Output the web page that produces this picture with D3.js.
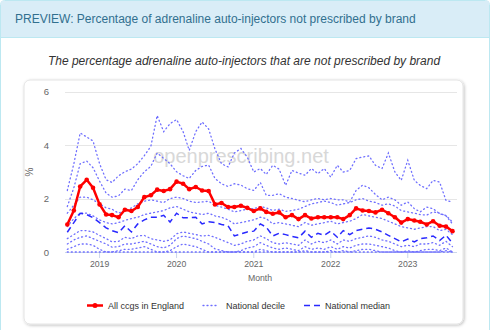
<!DOCTYPE html>
<html>
<head>
<meta charset="utf-8">
<script src="https://cdn.jsdelivr.net/npm/d3@7"></script>
<style>
  body { margin: 0; background: #fff; }
  #chart { width: 491px; height: 330px; overflow: hidden; }
  svg text { font-family: Arial, "Liberation Sans", Arimo, Helvetica, sans-serif; }
</style>
</head>
<body>
<div id="chart"></div>
<script>
// months Aug 2018 .. Aug 2023
var months = d3.timeMonth.range(new Date(2018, 7, 1), new Date(2023, 8, 1));
var yTicks = [0, 2, 4, 6];
var xTicks = [2019, 2020, 2021, 2022, 2023];

var allCcgs = [1.03, 1.55, 2.45, 2.7, 2.4, 1.78, 1.4, 1.38, 1.3, 1.58, 1.53, 1.68, 2.05, 2.12, 2.33, 2.28, 2.35, 2.63,
  2.55, 2.35, 2.43, 2.3, 2.28, 1.78, 1.83, 1.68, 1.68, 1.73, 1.65, 1.53, 1.63, 1.5, 1.43, 1.48, 1.3, 1.38, 1.23, 1.38,
  1.25, 1.3, 1.3, 1.3, 1.3, 1.23, 1.38, 1.63, 1.55, 1.53, 1.48, 1.58, 1.45, 1.3, 1.1, 1.23, 1.18, 1.13, 1.03, 1.15,
  0.98, 0.95, 0.78];

var median = [0.74, 1.1, 1.45, 1.4, 1.28, 1.1, 0.9, 0.8, 0.72, 0.98, 0.75, 1.05, 1.2, 1.3, 1.3, 1.37, 1.12, 1.45,
  1.28, 1.28, 1.3, 1.05, 1.13, 1.1, 1.03, 0.98, 0.6, 0.68, 0.75, 0.78, 1.05, 0.93, 0.6, 0.7, 0.65, 0.58, 0.53, 0.78,
  0.55, 0.7, 0.62, 0.78, 0.55, 0.8, 0.65, 0.8, 0.85, 0.9, 0.85, 0.75, 0.62, 0.5, 0.38, 0.48, 0.38, 0.5, 0.53, 0.6,
  0.43, 0.63, 0.33];

var dec90 = [2.3, 3.3, 4.45, 4.3, 4.15, 3.3, 2.7, 2.6, 2.85, 3.0, 3.1, 3.3, 3.6, 3.95, 5.1, 4.5, 4.8, 4.95, 4.5, 3.8,
  4.5, 4.86, 4.6, 3.85, 3.3, 3.18, 3.7, 3.87, 3.55, 2.99, 3.12, 2.9, 3.24, 3.1, 2.49, 3.05, 2.95, 2.87, 3.12, 2.93,
  3.12, 2.8, 3.24, 2.99, 3.05, 3.49, 3.55, 3.59, 3.24, 3.12, 3.7, 2.99, 2.68, 3.43, 2.68, 2.49, 2.37, 2.68, 2.61,
  1.93, 1.87];
var dec80 = [1.7, 2.4, 3.3, 3.4, 3.15, 2.65, 2.2, 2.05, 2.1, 2.35, 2.3, 2.7, 3.0, 3.2, 3.7, 3.5, 3.3, 3.0, 2.85, 2.75,
  3.05, 3.2, 3.25, 2.75, 2.55, 2.45, 2.55, 2.5, 2.37, 2.3, 2.6, 2.12, 2.12, 2.18, 2.05, 2.0, 1.93, 1.88, 1.95, 2.0,
  1.95, 2.0, 1.95, 1.95, 1.87, 2.3, 2.5, 2.4, 2.15, 1.95, 2.05, 1.95, 1.75, 1.87, 1.62, 1.5, 1.68, 1.62, 1.43, 1.37,
  1.12];
var dec70 = [1.45, 1.75, 2.05, 2.05, 1.95, 1.8, 1.65, 1.6, 1.45, 1.55, 1.65, 1.8, 1.9, 1.95, 1.9, 1.85, 2.0, 2.05,
  2.0, 1.9, 1.85, 1.87, 1.9, 1.75, 1.68, 1.6, 1.5, 1.55, 1.6, 1.62, 1.7, 1.65, 1.55, 1.6, 1.52, 1.55, 1.6, 1.7, 1.8,
  1.85, 1.9, 1.85, 1.75, 1.8, 1.85, 1.95, 2.0, 1.9, 1.85, 1.75, 1.8, 1.72, 1.55, 1.5, 1.45, 1.4, 1.38, 1.5, 1.45,
  1.35, 1.05];
var dec60 = [0.95, 1.25, 1.45, 1.45, 1.35, 1.2, 1.1, 1.05, 1.1, 1.18, 1.25, 1.3, 1.4, 1.45, 1.5, 1.55, 1.65, 1.7,
  1.6, 1.5, 1.45, 1.4, 1.45, 1.35, 1.3, 1.2, 1.05, 1.1, 1.15, 1.2, 1.3, 1.25, 1.05, 1.1, 1.05, 1.0, 0.95, 1.1, 1.0,
  1.05, 1.1, 1.15, 1.05, 1.1, 1.15, 1.25, 1.4, 1.35, 1.3, 1.25, 1.15, 1.05, 0.95, 0.9, 0.85, 0.9, 0.95, 0.95, 0.8,
  0.85, 0.65];
var dec40 = [0.5, 0.65, 0.8, 0.8, 0.75, 0.62, 0.5, 0.38, 0.4, 0.55, 0.5, 0.6, 0.62, 0.5, 0.45, 0.4, 0.45, 0.68,
  0.75, 0.7, 0.65, 0.6, 0.62, 0.55, 0.45, 0.35, 0.25, 0.3, 0.4, 0.45, 0.6, 0.5, 0.35, 0.3, 0.35, 0.3, 0.25, 0.45,
  0.3, 0.4, 0.35, 0.45, 0.3, 0.45, 0.4, 0.5, 0.55, 0.6, 0.55, 0.45, 0.4, 0.3, 0.2, 0.25, 0.2, 0.3, 0.3, 0.35, 0.25,
  0.4, 0.2];
var dec30 = [0.3, 0.45, 0.55, 0.6, 0.5, 0.4, 0.3, 0.18, 0.2, 0.3, 0.3, 0.35, 0.4, 0.3, 0.2, 0.15, 0.25, 0.5, 0.6,
  0.55, 0.5, 0.4, 0.3, 0.12, 0.05, 0, 0, 0.05, 0.15, 0.2, 0.35, 0.25, 0.15, 0.1, 0.15, 0.1, 0.05, 0.2, 0.1, 0.15,
  0.1, 0.2, 0.1, 0.2, 0.15, 0.25, 0.3, 0.3, 0.25, 0.2, 0.15, 0.05, 0, 0.05, 0, 0.05, 0.1, 0.1, 0.05, 0.15, 0];
var dec20 = [0.1, 0.2, 0.3, 0.3, 0.25, 0.1, 0, 0, 0.05, 0.1, 0.1, 0.15, 0.2, 0.1, 0, 0, 0.05, 0.2, 0.3, 0.25, 0.2,
  0.1, 0, 0, 0, 0, 0, 0, 0, 0, 0.1, 0.05, 0, 0, 0, 0, 0, 0.05, 0, 0, 0, 0.05, 0, 0.05, 0, 0.05, 0.1, 0.1, 0.05, 0,
  0, 0, 0, 0, 0, 0, 0, 0, 0, 0.05, 0];
var dec10 = [0, 0, 0, 0, 0, 0, 0, 0, 0, 0, 0, 0, 0, 0, 0, 0, 0, 0, 0, 0, 0, 0, 0, 0, 0, 0, 0, 0, 0, 0, 0, 0, 0, 0,
  0, 0, 0, 0, 0, 0, 0, 0, 0, 0, 0, 0, 0, 0, 0, 0, 0, 0, 0, 0, 0, 0, 0, 0, 0, 0, 0];

var deciles = [dec10, dec20, dec30, dec40, dec60, dec70, dec80, dec90];

var width = 491, height = 330;

var svg = d3.select("#chart").append("svg")
  .attr("width", width)
  .attr("height", height);

// panel
svg.append("rect").attr("x", 0.5).attr("y", 0.5).attr("width", 489).attr("height", 340)
  .attr("fill", "#fff").attr("stroke", "#bce8f1").attr("rx", 4);
svg.append("rect").attr("x", 1).attr("y", 1).attr("width", 488).attr("height", 36)
  .attr("fill", "#d9edf7");
svg.append("line").attr("x1", 1).attr("x2", 489).attr("y1", 37.5).attr("y2", 37.5).attr("stroke", "#bce8f1");
svg.append("text").attr("x", 15).attr("y", 22.5).attr("font-size", 12).attr("fill", "#31708f")
  .text("PREVIEW: Percentage of adrenaline auto-injectors not prescribed by brand");

svg.append("text").attr("x", 244).attr("y", 65).attr("text-anchor", "middle")
  .attr("font-size", 12).attr("font-style", "italic").attr("fill", "#333")
  .text("The percentage adrenaline auto-injectors that are not prescribed by brand");

// card with shadow
var defs = svg.append("defs");
var f = defs.append("filter").attr("id", "shadow").attr("x", "-5%").attr("y", "-5%").attr("width", "110%").attr("height", "110%");
f.append("feDropShadow").attr("dx", 1).attr("dy", 1).attr("stdDeviation", 1.5).attr("flood-color", "#000").attr("flood-opacity", 0.25);
svg.append("rect").attr("x", 24).attr("y", 80).attr("width", 439).attr("height", 244).attr("rx", 6)
  .attr("fill", "#fff").attr("stroke", "#e4e4e4").attr("filter", "url(#shadow)");

var x = d3.scaleTime().domain([months[0], months[months.length - 1]]).range([67.3, 452.5]);
var y = d3.scaleLinear().domain([0, 6]).range([252, 91.5]);

// grid
svg.append("g").selectAll("line").data(yTicks).enter().append("line")
  .attr("x1", 65).attr("x2", 457)
  .attr("y1", (d) => Math.round(y(d)) + 0.5).attr("y2", (d) => Math.round(y(d)) + 0.5)
  .attr("stroke", "#e6e6e6");
svg.append("g").selectAll("text").data(yTicks).enter().append("text")
  .attr("x", 49).attr("y", (d) => y(d) + 3.5).attr("text-anchor", "end")
  .attr("font-size", 9.5).attr("fill", "#666").text((d) => d);
svg.append("text").attr("transform", "translate(33,172) rotate(-90)").attr("text-anchor", "middle")
  .attr("font-size", 10).attr("fill", "#666").text("%");

// x axis
svg.append("line").attr("x1", 65).attr("x2", 457).attr("y1", 252.5).attr("y2", 252.5).attr("stroke", "#ccd6eb");
var xt = svg.append("g").selectAll("g").data(xTicks).enter().append("g")
  .attr("transform", (d) => "translate(" + x(new Date(d, 0, 1)) + ",0)");
xt.append("line").attr("y1", 252).attr("y2", 258).attr("stroke", "#ccd6eb");
xt.append("text").attr("y", 267).attr("text-anchor", "middle").attr("font-size", 8.7).attr("fill", "#666").text((d) => d);
svg.append("text").attr("x", 260).attr("y", 281).attr("text-anchor", "middle")
  .attr("font-size", 8.7).attr("fill", "#666").text("Month");

// watermark
svg.append("text").attr("x", 241).attr("y", 163).attr("text-anchor", "middle")
  .attr("font-size", 20).attr("fill", "#d8d8d8").text("openprescribing.net");

var line = d3.line().x((d, i) => x(months[i])).y((d) => y(d));

svg.append("g").selectAll("path").data(deciles).enter().append("path")
  .attr("d", line).attr("fill", "none").attr("stroke", "#6f6fff").attr("stroke-width", 1.3)
  .attr("stroke-dasharray", "1,3").attr("stroke-linecap", "round");

svg.append("path").datum(median).attr("d", line).attr("fill", "none")
  .attr("stroke", "#2929ff").attr("stroke-width", 1.5).attr("stroke-dasharray", "6,4");

svg.append("path").datum(allCcgs).attr("d", line).attr("fill", "none")
  .attr("stroke", "#ff0000").attr("stroke-width", 2.5).attr("stroke-linejoin", "round");
svg.append("g").selectAll("circle").data(allCcgs).enter().append("circle")
  .attr("cx", (d, i) => x(months[i])).attr("cy", (d) => y(d)).attr("r", 2.3).attr("fill", "#ff0000");

// legend
var legend = [
  { label: "All ccgs in England", tx: 108 },
  { label: "National decile", tx: 226 },
  { label: "National median", tx: 325 }
];
var lg = svg.append("g");
lg.append("line").attr("x1", 87).attr("x2", 103).attr("y1", 305.5).attr("y2", 305.5).attr("stroke", "#f00").attr("stroke-width", 2.5);
lg.append("circle").attr("cx", 95).attr("cy", 305.5).attr("r", 2.5).attr("fill", "#f00");
lg.append("line").attr("x1", 203).attr("x2", 219).attr("y1", 305.5).attr("y2", 305.5).attr("stroke", "#6f6fff")
  .attr("stroke-width", 1.3).attr("stroke-dasharray", "1,3").attr("stroke-linecap", "round");
lg.append("line").attr("x1", 304).attr("x2", 320).attr("y1", 305.5).attr("y2", 305.5).attr("stroke", "#2929ff")
  .attr("stroke-width", 1.5).attr("stroke-dasharray", "6,4");
lg.selectAll("text").data(legend).enter().append("text")
  .attr("x", (d) => d.tx).attr("y", 308.8).attr("font-size", 9).attr("fill", "#333").text((d) => d.label);
</script>
</body>
</html>
